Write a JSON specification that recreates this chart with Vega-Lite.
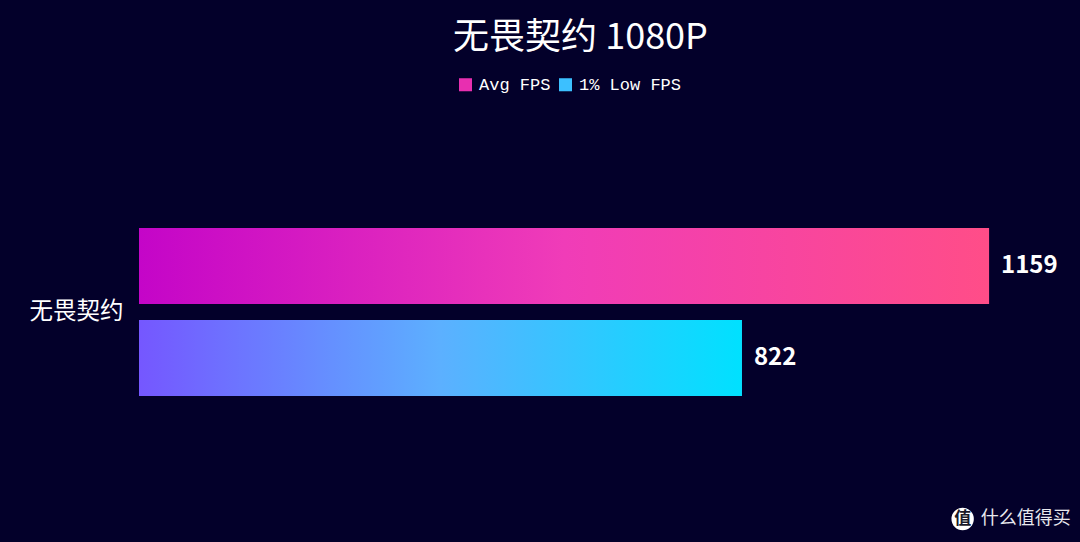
{
  "$schema": "https://vega.github.io/schema/vega-lite/v6.json",
  "width": 941,
  "height": 460,
  "autosize": "none",
  "padding": {"left": 139, "top": 82, "right": 0, "bottom": 0},
  "background": "#03002a",
  "config": {"view": {"stroke": "transparent"}, "font": "Noto Sans CJK SC"},
  "title": {
    "text": "无畏契约 1080P",
    "font": "Noto Sans CJK SC",
    "fontSize": 36,
    "fontWeight": "normal",
    "color": "#ffffff",
    "anchor": "middle",
    "dx": -29,
    "offset": 19
  },
  "layer": [
    {
      "data": {"values": [
        {"game": "无畏契约", "series": "Avg FPS", "fps": 1159},
        {"game": "无畏契约", "series": "1% Low FPS", "fps": 822}
      ]},
      "encoding": {
        "y": {
          "field": "game",
          "type": "nominal",
          "title": null,
          "scale": {"paddingInner": 0, "paddingOuter": 0.869},
          "axis": {
            "domain": false,
            "ticks": false,
            "labelPadding": 16,
            "labelFontSize": 23.5,
            "labelColor": "#ffffff",
            "labelFont": "Noto Sans CJK SC"
          }
        },
        "yOffset": {
          "field": "series",
          "type": "nominal",
          "sort": ["Avg FPS", "1% Low FPS"],
          "scale": {"paddingInner": 0.174, "paddingOuter": 0}
        },
        "x": {
          "field": "fps",
          "type": "quantitative",
          "title": null,
          "axis": null,
          "scale": {"domain": [0, 1283], "nice": false}
        }
      },
      "layer": [
        {
          "mark": {"type": "bar"},
          "encoding": {
            "color": {
              "field": "series",
              "type": "nominal",
              "sort": ["Avg FPS", "1% Low FPS"],
              "scale": {
                "domain": ["Avg FPS", "1% Low FPS"],
                "range": ["#e82fb0", "#3cc0ff"]
              },
              "legend": {
                "orient": "none",
                "direction": "horizontal",
                "legendX": 318,
                "legendY": -6,
                "title": null,
                "symbolType": "square",
                "symbolSize": 170,
                "symbolStrokeWidth": 0,
                "labelFont": "Liberation Mono",
                "labelFontSize": 17,
                "labelColor": "#ffffff",
                "labelOffset": 5,
                "columnPadding": 6
              }
            }
          }
        },
        {
          "transform": [{"filter": "datum.series == 'Avg FPS'"}],
          "mark": {"type": "bar", "color": {"gradient": "linear", "x1": 0, "y1": 0, "x2": 1, "y2": 0, "stops": [{"offset": 0, "color": "#c405c8"}, {"offset": 0.5, "color": "#f03cb8"}, {"offset": 1, "color": "#ff4d88"}]}}
        },
        {
          "transform": [{"filter": "datum.series == '1% Low FPS'"}],
          "mark": {"type": "bar", "color": {"gradient": "linear", "x1": 0, "y1": 0, "x2": 1, "y2": 0, "stops": [{"offset": 0, "color": "#7557ff"}, {"offset": 0.5, "color": "#5cb0ff"}, {"offset": 1, "color": "#00e1ff"}]}}
        },
        {
          "mark": {"type": "text", "align": "left", "dx": 12, "fontSize": 24, "fontWeight": "bold", "color": "#ffffff", "font": "Noto Sans CJK SC"},
          "encoding": {"text": {"field": "fps", "type": "quantitative"}}
        }
      ]
    },
    {
      "data": {"values": [
        {"px": 1123, "py": 0.05, "label": "什么值得买"}
      ]},
      "encoding": {
        "x": {"field": "px", "type": "quantitative"},
        "y": {"field": "py", "type": "quantitative", "axis": null, "scale": {"domain": [0, 1]}}
      },
      "layer": [
        {
          "mark": {"type": "point", "filled": true, "opacity": 1, "color": "#ffffff", "size": 500}
        },
        {
          "mark": {"type": "text", "text": "值", "fontSize": 17, "fontWeight": "bold", "color": "#1a1a2a", "font": "Noto Sans CJK SC"}
        },
        {
          "mark": {"type": "text", "align": "left", "dx": 18, "fontSize": 18, "color": "#e8e8ee", "font": "Noto Sans CJK SC"},
          "encoding": {"text": {"field": "label"}}
        }
      ]
    }
  ],
  "resolve": {"scale": {"y": "independent"}}
}
